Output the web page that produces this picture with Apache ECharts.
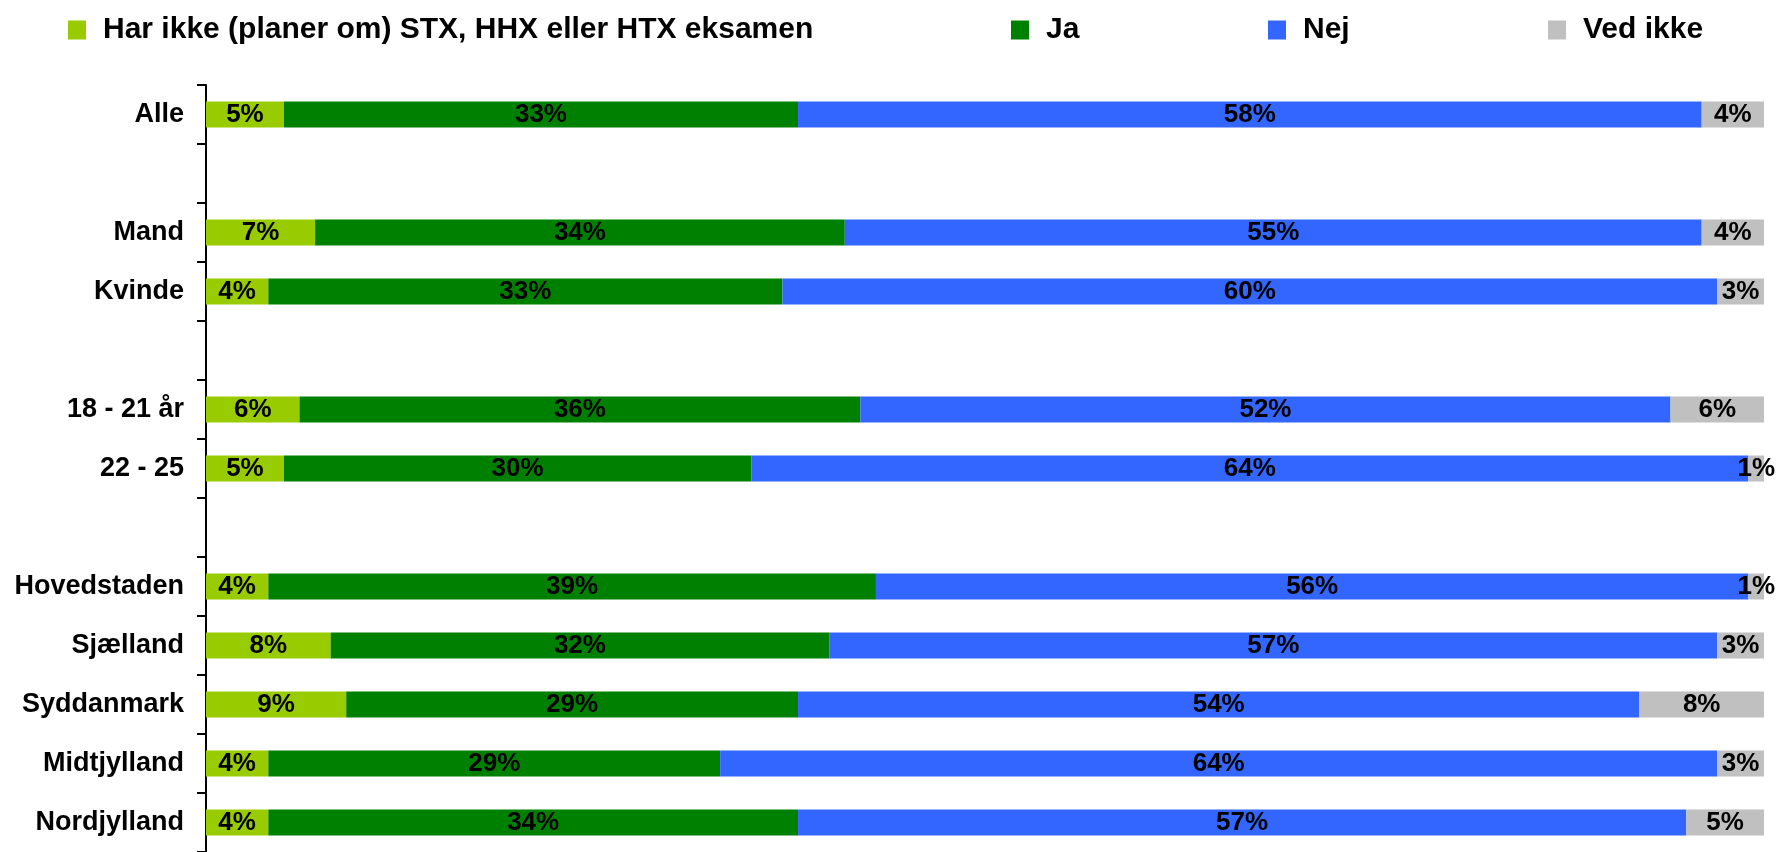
<!DOCTYPE html>
<html lang="da">
<head>
    <meta charset="UTF-8">
    <title>Eksamen</title>
    <script src="https://cdn.jsdelivr.net/npm/echarts@6/dist/echarts.min.js"></script>
</head>
<body style="margin:0;width:1781px;height:852px;background:#fff">
    <div id="container" style="width:1781px;height:852px"></div>
</body>
<script>
    // kategorier (tomme rækker giver luft mellem grupperne)
    var categories = ['Alle', '', 'Mand', 'Kvinde', ' ', '18 - 21 år', '22 - 25', '  ',
        'Hovedstaden', 'Sjælland', 'Syddanmark', 'Midtjylland', 'Nordjylland'];

    var harIkke = [5, '-', 7, 4, '-', 6, 5, '-', 4, 8, 9, 4, 4];
    var ja      = [33, '-', 34, 33, '-', 36, 30, '-', 39, 32, 29, 29, 34];
    var nej     = [58, '-', 55, 60, '-', 52, 64, '-', 56, 57, 54, 64, 57];
    var vedIkke = [4, '-', 4, 3, '-', 6, 1, '-', 1, 3, 8, 3, 5];

    var names = ['Har ikke (planer om) STX, HHX eller HTX eksamen', 'Ja', 'Nej', 'Ved ikke'];
    var colors = ['#99CC00', '#008000', '#3366FF', '#C0C0C0'];
    var values = [harIkke, ja, nej, vedIkke];

    var font = '"Liberation Sans", Arial, sans-serif';
    var legendLeft = [68, 1011, 1268, 1548];

    var dom = document.getElementById("container");
    var myChart = echarts.init(dom);

    var option = {
        animation: false,
        color: colors,
        legend: names.map(function (n, i) {
            return {
                data: [n],
                left: legendLeft[i],
                top: 15,
                padding: 0,
                icon: 'rect',
                itemWidth: 18,
                itemHeight: 19,
                itemGap: 0,
                textStyle: {fontFamily: font, fontSize: 30, fontWeight: 'bold', color: '#000', padding: [0, 0, 0, 12]}
            };
        }),
        grid: {left: 206, right: 17, top: 85, bottom: 0, containLabel: false},
        xAxis: {
            type: 'value',
            min: 0,
            max: 100,
            show: false
        },
        yAxis: {
            type: 'category',
            inverse: true,
            data: categories,
            axisLine: {show: true, lineStyle: {color: '#000', width: 2}},
            axisTick: {show: true, length: 9, lineStyle: {color: '#000', width: 2}},
            axisLabel: {
                margin: 22,
                color: '#000',
                fontFamily: font,
                fontSize: 27,
                fontWeight: 'bold'
            }
        },
        series: names.map(function (n, i) {
            return {
                name: n,
                type: 'bar',
                stack: 'total',
                barWidth: 26,
                data: values[i],
                label: {
                    show: true,
                    position: 'inside',
                    formatter: '{c}%',
                    color: '#000',
                    fontFamily: font,
                    fontSize: 26,
                    fontWeight: 'bold'
                }
            };
        })
    };
    myChart.setOption(option);
</script>
</html>
